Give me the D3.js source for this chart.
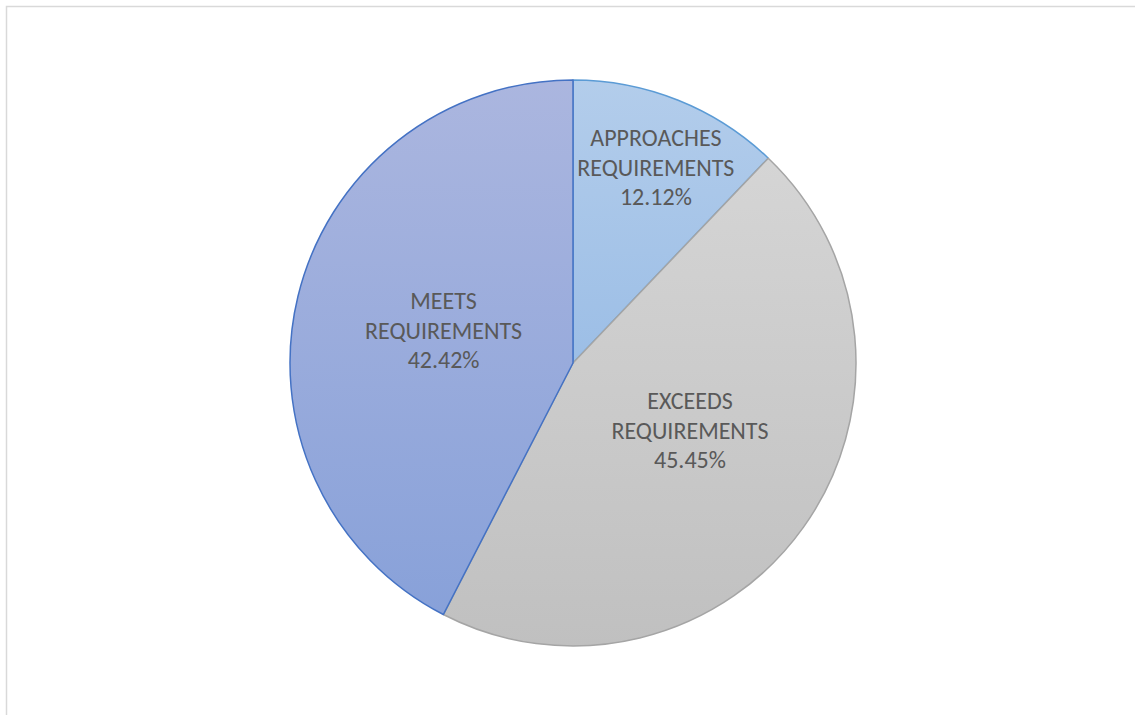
<!DOCTYPE html>
<html>
<head>
<meta charset="utf-8">
<script src="https://cdn.jsdelivr.net/npm/d3@7"></script>
<style>
  html, body { margin: 0; padding: 0; background: #fff; }
  svg { display: block; }
</style>
</head>
<body>
<div class="chart"></div>
<script>
const categories = ['APPROACHES REQUIREMENTS', 'EXCEEDS REQUIREMENTS', 'MEETS REQUIREMENTS'];
const values = [12.12, 45.45, 42.42];
const labelLines = [['APPROACHES', 'REQUIREMENTS'], ['EXCEEDS', 'REQUIREMENTS'], ['MEETS', 'REQUIREMENTS']];

const width = 1135;
const height = 715;
const cx = 573;
const cy = 363;
const radius = 283;

// light top -> darker bottom, like the office gradient fill
const fills = [
  ['#b3cdeb', '#9cbee6'],
  ['#d5d5d5', '#c0c0c0'],
  ['#abb6df', '#88a1d9']
];
const strokes = ['#5b9bd5', '#a5a5a5', '#4472c4'];
// label distance (part of radius) and angle nudge in degrees, excel moves them a bit
const labelPos = [[0.752, 1.1], [0.476, -5.7], [0.472, 0.7]];

const svg = d3.select('.chart')
  .append('svg')
  .attr('width', width)
  .attr('height', height);

// chart frame
svg.append('rect')
  .attr('x', 6.5)
  .attr('y', 6.5)
  .attr('width', width + 20)
  .attr('height', height + 20)
  .attr('fill', '#fff')
  .attr('stroke', '#d9d9d9')
  .attr('stroke-width', 1.5);

const defs = svg.append('defs');
fills.forEach((f, i) => {
  const g = defs.append('linearGradient')
    .attr('id', 'grad' + i)
    .attr('x1', 0).attr('y1', 0)
    .attr('x2', 0).attr('y2', 1);
  g.append('stop').attr('offset', '0%').attr('stop-color', f[0]);
  g.append('stop').attr('offset', '100%').attr('stop-color', f[1]);
});

const pie = d3.pie().sort(null).value(d => d);
const arcs = pie(values);

const arc = d3.arc().innerRadius(0).outerRadius(radius);

const g = svg.append('g')
  .attr('transform', `translate(${cx}, ${cy})`);

g.selectAll('path')
  .data(arcs)
  .join('path')
  .attr('d', arc)
  .attr('fill', (d, i) => `url(#grad${i})`)
  .attr('stroke', (d, i) => strokes[i])
  .attr('stroke-width', 1.5)
  .attr('stroke-linejoin', 'round');

const lineH = 29.5;

arcs.forEach((d, i) => {
  const r = radius * labelPos[i][0];
  const a = (d.startAngle + d.endAngle) / 2 + labelPos[i][1] * Math.PI / 180;
  const x = r * Math.sin(a);
  const y = -r * Math.cos(a);
  const lines = labelLines[i].concat([d3.format('.2f')(values[i]) + '%']);
  const t = g.append('text')
    .attr('text-anchor', 'middle')
    .attr('font-family', 'Carlito, Calibri, Lato, sans-serif')
    .attr('font-size', 24)
    .attr('fill', '#595959');
  lines.forEach((s, k) => {
    t.append('tspan')
      .attr('x', x)
      .attr('y', y + (k - 1) * lineH + 9)
      .text(s);
  });
});
</script>
</body>
</html>
